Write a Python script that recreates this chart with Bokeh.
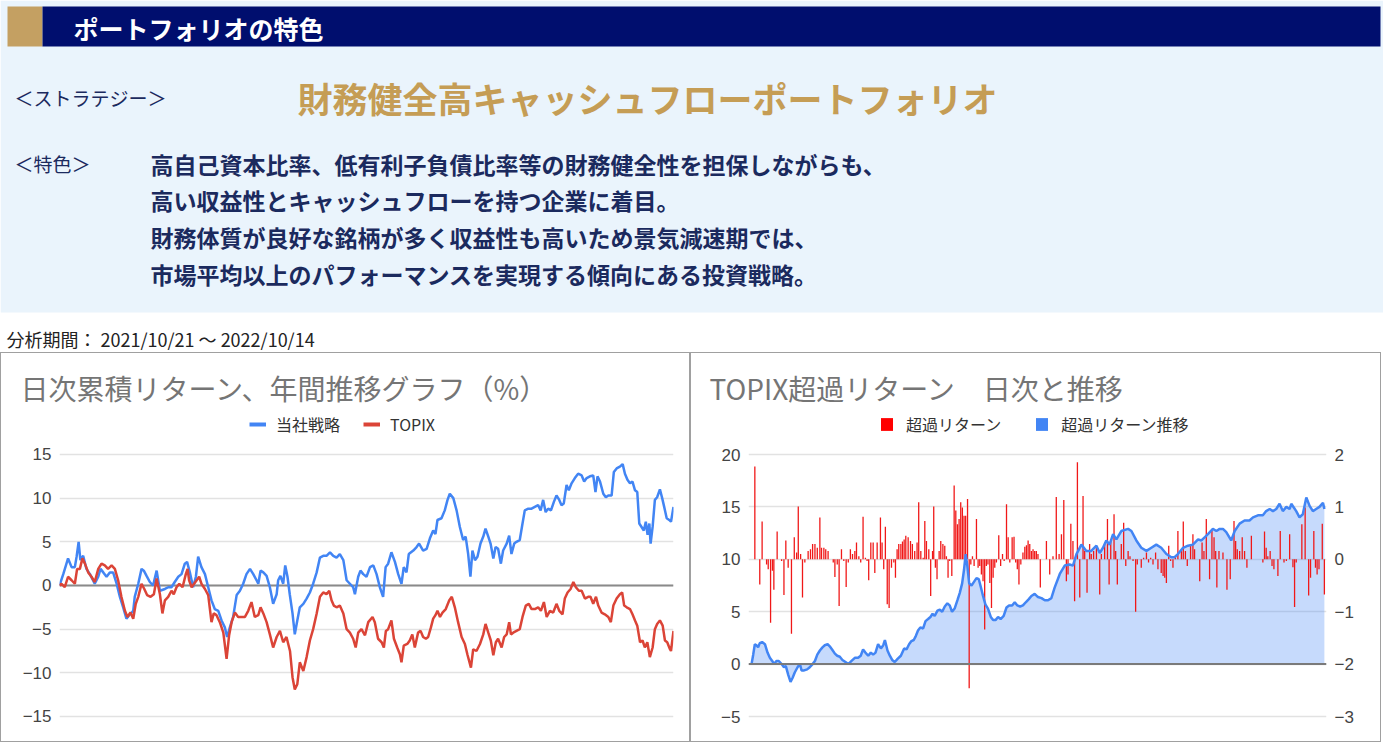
from bokeh.plotting import figure
from bokeh.models import (Range1d, Label, Span, FixedTicker, LinearAxis, Legend,
                          LegendItem, ColumnDataSource)
from bokeh.layouts import column, row
from bokeh.embed import file_html
from bokeh.resources import INLINE

# ---------------- data (trading-day index, value in %) ----------------
STRATEGY = [
    (0.0, 0.0), (1.5, 1.3), (3.4, 3.1), (4.8, 2.1), (6.1, 2.1), (6.8, 3.3), (7.6, 5.0), (8.3, 2.9), (9.4, 3.4), (10.7, 1.9),
    (12.1, 1.3), (14.0, 0.2), (15.4, 1.0), (16.3, 1.9), (17.4, 1.5), (18.7, 1.0), (20.0, 1.5), (21.3, 1.5), (22.7, 0.2), (24.0, -1.3),
    (25.3, -2.5), (26.6, -3.8), (28.0, -3.3), (29.3, -2.9), (29.9, -1.3), (31.3, 0.2), (32.6, 1.9), (33.5, 1.7), (34.6, 1.1), (35.9, 0.4),
    (37.2, 0.0), (38.6, 1.7), (39.9, -0.6), (41.9, -0.4), (43.2, -0.2), (44.5, -0.2), (45.8, 0.4), (47.2, 1.0), (48.5, 1.3), (49.8, 2.5),
    (50.7, 2.7), (51.8, 1.5), (53.1, -0.2), (54.2, 1.0), (55.1, 3.3), (56.4, 2.1), (57.8, 1.3), (59.1, -0.2), (60.4, -1.7), (61.7, -2.7),
    (63.1, -2.9), (64.4, -4.0), (65.7, -4.8), (66.6, -5.9), (67.7, -4.8), (69.0, -3.6), (70.4, -1.1), (71.7, -0.6), (73.0, 0.2), (74.3, 1.3),
    (75.7, 1.9), (77.0, 1.3), (78.3, 0.6), (79.0, 0.2), (79.9, 1.7), (81.0, 1.5), (82.3, 1.1), (83.6, -0.2), (84.9, -2.1), (86.3, -1.0),
    (86.9, 0.6), (87.8, 1.1), (88.9, 0.2), (89.7, 2.3), (90.6, 1.0), (91.5, -1.0), (92.6, -3.2), (93.5, -5.6), (94.5, -4.0), (95.5, -2.5),
    (96.9, -2.1), (98.2, -1.5), (99.5, -0.8), (100.8, 0.2), (102.2, 1.5), (103.5, 3.2), (104.8, 3.4), (106.1, 3.4), (107.5, 3.8), (108.8, 3.4),
    (110.1, 3.2), (111.4, 3.6), (112.8, 2.9), (114.1, 0.6), (115.4, 0.2), (116.7, -0.2), (117.4, -1.0), (118.7, 1.0), (119.6, 1.7), (120.7, 1.3),
    (122.0, 1.0), (123.4, 2.1), (124.7, 2.3), (126.0, 1.3), (127.3, -0.2), (128.6, -1.3), (129.6, 2.1), (130.6, 2.5), (131.9, 3.8), (133.3, 2.7),
    (134.6, 1.3), (135.9, 0.2), (136.8, 2.1), (137.9, 1.5), (138.8, 3.6), (140.6, 4.0), (141.9, 4.4), (142.9, 4.8), (144.5, 4.0), (145.9, 4.2),
    (147.2, 5.4), (148.5, 6.3), (149.4, 5.9), (150.2, 7.5), (151.8, 7.7), (153.1, 8.6), (154.2, 9.8), (155.1, 10.5), (156.5, 10.0), (157.8, 8.6),
    (159.1, 6.7), (160.4, 5.2), (161.4, 5.6), (162.4, 3.6), (163.3, 1.0), (164.1, 4.0), (165.1, 2.9), (166.1, 3.3), (167.3, 4.8), (168.4, 5.6),
    (169.3, 6.5), (170.4, 5.6), (171.3, 4.8), (172.4, 3.1), (173.3, 4.4), (174.3, 4.2), (175.4, 2.5), (176.3, 4.0), (177.7, 4.8), (178.7, 5.7),
    (179.6, 3.6), (180.7, 4.8), (181.6, 5.0), (182.9, 5.2), (184.0, 7.1), (184.9, 8.6), (186.3, 8.8), (187.6, 8.8), (188.9, 9.0), (190.2, 9.2),
    (191.2, 8.6), (192.2, 9.8), (193.2, 8.4), (194.2, 8.8), (195.3, 8.6), (196.5, 9.6), (197.5, 10.3), (198.6, 9.8), (199.5, 9.2), (200.4, 9.4),
    (201.5, 11.5), (202.4, 10.9), (203.5, 11.7), (204.8, 12.3), (206.1, 12.8), (207.5, 12.6), (208.5, 11.9), (209.5, 12.3), (210.8, 12.5), (212.1, 12.6),
    (213.0, 10.7), (213.8, 12.5), (214.8, 11.9), (216.1, 10.5), (217.1, 10.1), (218.1, 10.3), (219.4, 10.3), (220.3, 13.0), (221.4, 13.4), (222.7, 13.6),
    (223.8, 13.9), (224.7, 12.8), (225.7, 12.1), (226.7, 11.7), (227.7, 11.9), (228.7, 10.9), (229.6, 10.7), (230.4, 7.1), (231.3, 6.7), (232.2, 6.3),
    (233.0, 7.3), (233.7, 5.8), (234.4, 7.1), (234.9, 4.8), (235.7, 6.7), (236.6, 9.8), (237.5, 10.1), (238.6, 11.0), (239.5, 10.0), (240.3, 9.0),
    (241.3, 7.7), (242.3, 7.5), (243.0, 7.3), (244.0, 9.0),
]

TOPIX = [
    (0.0, 0.0), (0.8, 0.2), (2.1, -0.2), (3.4, 1.0), (4.8, 0.6), (6.1, 0.2), (7.0, 1.9), (8.1, 1.9), (9.1, 3.1), (10.1, 2.5),
    (11.4, 1.5), (12.7, 1.0), (14.0, 0.4), (15.4, 1.9), (16.7, 2.5), (18.0, 2.3), (19.3, 1.9), (20.7, 2.3), (22.0, 1.9), (23.3, 0.6),
    (24.6, -1.3), (26.0, -2.9), (27.0, -3.6), (28.2, -3.1), (29.3, -3.8), (30.3, -2.1), (31.3, -1.3), (32.6, 0.2), (33.7, -0.4), (34.8, -1.1),
    (36.2, -1.3), (37.5, -1.0), (38.6, 0.8), (39.9, -1.0), (40.9, -3.2), (41.9, -1.7), (43.2, -1.3), (44.5, -0.6), (45.4, -1.0), (46.5, -0.2),
    (47.6, 0.2), (48.9, -0.2), (50.2, 1.3), (50.9, 1.9), (51.5, 0.6), (52.5, -0.2), (53.5, 0.2), (54.5, 0.6), (55.5, 1.0), (56.4, 0.2),
    (57.8, -0.4), (59.1, -1.1), (60.4, -4.2), (61.3, -3.2), (62.4, -3.4), (63.7, -4.2), (65.1, -5.4), (66.4, -8.4), (67.4, -5.7), (68.4, -4.2),
    (69.7, -3.1), (71.0, -3.6), (72.3, -3.6), (73.7, -3.6), (75.0, -2.9), (76.3, -1.9), (77.6, -3.6), (79.0, -3.4), (79.9, -2.5), (81.0, -3.2),
    (82.3, -4.2), (83.6, -5.6), (84.9, -7.1), (86.3, -5.9), (87.6, -5.2), (88.9, -6.5), (90.2, -5.9), (91.6, -7.5), (92.6, -10.5), (93.5, -11.9),
    (94.5, -11.3), (95.5, -8.8), (96.9, -9.8), (98.2, -8.2), (99.5, -6.3), (100.8, -5.0), (102.2, -3.2), (103.5, -1.3), (104.8, -0.8), (106.1, -1.0),
    (107.2, -0.6), (108.1, -1.7), (109.0, -2.3), (110.1, -2.5), (111.4, -2.3), (112.8, -3.2), (114.1, -5.0), (115.4, -5.4), (116.7, -6.1), (117.7, -7.1),
    (118.7, -5.4), (120.0, -5.0), (121.4, -5.7), (122.7, -4.2), (124.4, -3.6), (125.3, -4.2), (126.6, -6.1), (128.0, -6.5), (128.9, -7.1), (129.7, -5.2),
    (130.6, -5.0), (131.9, -4.0), (132.9, -6.1), (134.2, -7.1), (135.3, -7.9), (135.9, -8.8), (136.8, -6.9), (138.2, -6.7), (139.2, -6.3), (140.2, -5.6),
    (141.2, -7.1), (142.5, -5.4), (143.5, -5.2), (144.5, -5.9), (145.6, -6.1), (146.5, -5.9), (147.6, -4.8), (148.5, -3.8), (149.4, -3.4), (150.2, -2.9),
    (151.2, -3.6), (152.2, -3.1), (153.5, -2.7), (154.9, -1.7), (155.9, -1.3), (157.1, -2.5), (158.4, -4.2), (159.8, -5.9), (161.1, -6.7), (162.1, -7.9),
    (163.5, -9.4), (164.4, -7.3), (165.7, -7.5), (167.1, -6.7), (168.4, -5.6), (169.3, -4.4), (170.4, -5.4), (171.4, -6.3), (172.4, -8.0), (173.4, -6.5),
    (174.3, -6.1), (175.7, -7.1), (176.7, -5.9), (177.7, -5.6), (178.7, -4.2), (179.4, -5.6), (180.3, -5.4), (181.6, -5.2), (182.9, -5.0), (184.0, -3.6),
    (185.3, -2.3), (186.5, -2.1), (187.6, -2.7), (188.9, -2.7), (190.2, -2.5), (191.3, -2.9), (192.5, -1.9), (193.6, -3.6), (194.9, -2.9), (196.2, -3.1),
    (197.5, -2.1), (198.6, -2.9), (199.9, -3.3), (200.8, -1.5), (201.9, -0.8), (203.1, -0.4), (204.2, 0.4), (205.2, -0.2), (206.4, -0.6), (207.5, -0.6),
    (208.8, -1.5), (210.1, -1.3), (211.0, -1.3), (212.1, -2.1), (213.2, -1.3), (214.1, -2.3), (215.4, -3.1), (216.7, -3.3), (218.1, -3.6), (219.1, -4.2),
    (220.1, -2.3), (221.4, -1.5), (222.7, -1.0), (223.6, -0.8), (224.4, -2.3), (225.4, -2.5), (226.7, -2.7), (227.7, -3.3), (228.7, -4.0), (229.6, -4.6),
    (230.7, -6.5), (231.7, -6.3), (232.6, -7.1), (233.6, -6.5), (234.6, -8.2), (235.7, -7.1), (236.6, -5.0), (237.5, -4.4), (238.6, -4.0), (239.7, -4.6),
    (240.6, -6.3), (241.5, -6.5), (242.6, -7.3), (243.0, -7.5), (244.0, -5.2),
]

EXCESS_CUM = [
    (0.0, 0.0), (0.7, 0.9), (1.4, 1.9), (2.1, 1.8), (2.8, 1.6), (3.5, 2.0), (4.5, 2.1), (5.7, 1.9), (6.8, 1.1), (7.8, 0.6),
    (8.8, 0.3), (9.6, 0.0), (10.6, 0.3), (11.6, 0.3), (12.8, 0.0), (13.8, -0.3), (14.6, -0.2), (15.6, -1.0), (16.6, -1.7), (17.5, -1.3),
    (18.4, -0.8), (19.6, -0.3), (20.6, 0.0), (21.3, -0.6), (22.4, -0.6), (23.7, -0.5), (24.8, -0.3), (26.0, 0.0), (27.0, 0.3), (28.0, 0.9),
    (29.1, 1.3), (30.2, 1.6), (31.2, 1.8), (32.4, 1.9), (33.3, 1.7), (34.3, 1.4), (35.5, 1.0), (36.5, 0.8), (37.6, 0.7), (38.7, 0.4),
    (40.0, 0.2), (41.2, 0.0), (42.6, 0.3), (44.0, 0.6), (45.4, 0.6), (46.5, 0.8), (47.5, 1.4), (48.5, 1.1), (49.7, 0.8), (50.8, 1.1),
    (51.8, 0.9), (52.8, 1.1), (53.9, 1.9), (55.1, 1.5), (56.1, 1.8), (56.8, 2.3), (57.9, 1.3), (58.9, 0.8), (59.9, 0.4), (61.0, 0.2),
    (62.2, 0.5), (63.6, 0.8), (65.0, 1.5), (66.0, 1.4), (67.1, 1.9), (68.1, 2.2), (69.1, 2.3), (70.0, 2.7), (70.9, 3.2), (71.9, 3.5),
    (73.1, 3.4), (74.1, 4.1), (75.2, 4.3), (76.2, 4.5), (77.1, 4.8), (78.0, 4.6), (79.2, 5.1), (80.2, 5.2), (81.2, 5.0), (82.3, 5.5),
    (83.4, 5.8), (84.4, 5.6), (85.4, 5.0), (86.5, 5.3), (87.7, 6.1), (88.7, 6.8), (89.7, 7.7), (90.5, 9.0), (91.2, 10.5), (91.9, 9.4),
    (92.7, 7.7), (93.7, 7.5), (94.6, 7.8), (95.8, 8.2), (96.8, 8.1), (97.6, 7.4), (98.6, 6.5), (99.6, 5.7), (100.7, 5.3), (101.9, 4.5),
    (102.9, 4.2), (103.9, 4.2), (105.0, 4.5), (106.1, 4.3), (107.4, 4.6), (108.6, 5.4), (109.7, 5.6), (111.0, 5.6), (112.1, 5.9), (113.2, 5.6),
    (114.4, 5.5), (115.6, 5.6), (116.8, 5.9), (118.1, 6.2), (119.2, 6.5), (120.6, 6.7), (122.0, 6.4), (123.5, 6.3), (124.9, 6.1), (126.3, 6.1),
    (127.7, 6.3), (129.1, 7.3), (131.3, 8.6), (133.4, 9.4), (135.5, 9.5), (136.9, 9.4), (138.4, 10.5), (140.5, 11.4), (142.6, 10.8), (144.7, 10.8),
    (146.9, 11.3), (148.3, 10.6), (149.7, 11.1), (151.1, 11.8), (152.5, 11.4), (154.0, 12.4), (155.4, 11.9), (157.5, 12.7), (160.4, 12.9), (161.8, 12.7),
    (163.9, 11.8), (166.0, 11.1), (168.2, 10.8), (170.3, 11.1), (172.4, 11.4), (174.5, 11.1), (176.7, 10.5), (178.8, 10.2), (180.2, 10.2), (181.6, 10.5),
    (183.8, 11.1), (185.9, 11.3), (188.0, 11.4), (190.2, 11.9), (191.6, 11.8), (193.0, 12.1), (194.4, 12.4), (196.5, 12.9), (198.0, 12.7), (199.4, 12.9),
    (200.8, 12.9), (202.2, 12.6), (204.3, 11.8), (205.8, 12.7), (207.9, 13.4), (210.0, 13.7), (212.1, 13.7), (213.6, 14.0), (215.7, 14.2), (217.8, 14.2),
    (219.2, 14.6), (220.7, 14.8), (222.1, 14.6), (223.5, 14.8), (224.9, 15.3), (226.3, 14.6), (227.8, 15.0), (229.2, 14.8), (229.9, 15.3), (232.0, 14.6),
    (233.4, 14.0), (234.8, 14.3), (236.3, 15.9), (237.7, 15.1), (239.1, 14.6), (240.5, 14.8), (241.9, 15.0), (243.4, 15.4), (244.0, 14.8),
]

EXCESS_DAILY = [
    (1.4, 1.77), (3.5, -0.48), (4.5, 0.72), (6.4, -0.10), (7.1, -0.19), (8.1, -1.21), (8.9, -0.22), (9.5, -0.58), (10.9, 0.53), (12.8, -0.03),
    (13.8, -0.68), (14.6, 0.36), (15.6, -0.16), (17.0, -1.42), (18.2, 0.42), (19.2, 0.13), (19.9, 1.01), (20.9, 0.10), (21.7, -0.73), (22.7, -0.06),
    (24.1, 0.16), (25.1, 0.19), (26.0, 0.29), (27.0, 0.29), (28.0, 0.22), (29.1, 0.80), (29.8, 0.22), (30.8, 0.22), (31.6, 0.19), (32.6, 0.16),
    (34.8, -0.06), (35.5, -0.34), (36.5, -0.10), (37.3, -0.89), (38.3, 0.19), (39.3, -0.03), (40.3, -0.53), (41.2, -0.06), (42.1, 0.19), (43.0, 0.10),
    (44.0, 0.16), (44.7, 0.32), (45.7, 0.06), (46.5, -0.06), (47.5, 0.81), (48.5, 0.03), (49.2, -0.03), (49.9, -0.40), (50.8, 0.32), (51.8, 0.32),
    (52.5, -0.26), (53.5, 0.32), (54.9, 0.80), (55.6, 0.32), (56.3, -0.19), (57.0, 0.62), (57.8, -0.86), (58.6, -0.93), (59.6, -0.16), (60.6, -0.06),
    (61.3, -0.35), (62.0, 0.19), (62.7, 0.29), (63.6, 0.29), (64.3, 0.34), (65.0, 0.38), (65.7, 0.45), (66.7, 0.42), (67.7, 0.35), (68.5, 0.29),
    (69.5, 0.16), (70.5, 0.32), (71.2, 1.09), (72.1, 0.16), (73.1, 0.03), (73.8, 0.73), (74.5, 0.35), (75.5, 0.19), (76.3, -0.70), (77.1, 0.16),
    (77.6, 1.01), (78.3, -0.16), (79.0, -0.38), (79.9, 0.16), (80.6, 0.35), (81.5, 0.29), (82.3, 0.26), (83.0, 0.06), (83.7, -0.35), (84.4, -0.03),
    (85.3, -0.32), (86.3, 1.41), (87.0, 0.93), (87.7, 0.67), (88.4, 0.77), (89.1, 1.09), (89.8, 0.99), (90.5, 0.83), (91.2, 0.83), (92.0, 1.15),
    (92.7, -2.46), (93.4, -0.10), (94.1, 0.06), (94.8, -0.13), (95.8, 0.77), (96.5, -0.16), (97.2, -0.13), (97.9, -0.29), (98.6, -0.42), (99.3, -1.34),
    (100.0, -0.13), (100.7, -0.10), (101.5, -0.45), (102.2, -0.93), (102.9, -0.35), (103.6, -0.16), (104.3, -0.06), (105.3, 0.46), (106.1, -0.13), (106.9, 0.10),
    (107.6, -0.03), (108.6, 1.05), (109.3, 0.42), (110.0, -0.06), (111.0, 0.42), (111.8, 0.43), (112.5, -0.06), (113.2, -0.19), (113.9, -0.48), (114.7, -0.10),
    (115.6, 0.13), (116.4, 0.24), (117.1, 0.27), (117.8, 0.36), (118.5, 0.29), (119.2, 0.16), (119.9, 0.19), (120.6, 0.16), (121.3, 0.16), (122.0, 0.10),
    (123.0, -0.54), (125.6, 0.35), (127.0, -0.29), (128.4, 0.06), (129.8, 1.19), (131.0, 0.10), (132.0, 0.48), (133.0, 1.13), (134.1, -0.42), (134.8, -0.29),
    (136.0, 0.68), (136.9, 0.35), (137.6, -0.80), (138.8, 1.85), (139.8, -0.73), (141.2, 1.21), (141.9, 0.16), (142.9, -0.64), (144.0, 0.29), (144.7, 0.10),
    (145.7, 0.16), (146.9, 0.26), (148.3, -0.67), (149.0, 0.10), (150.4, 0.32), (151.6, 0.77), (152.3, -0.48), (153.0, 0.35), (154.4, 0.86), (155.1, 0.16),
    (155.8, -0.48), (157.5, 0.29), (158.5, 0.70), (159.4, -0.13), (160.4, 0.16), (161.2, 0.06), (162.5, -0.03), (163.6, -1.00), (164.3, -0.10), (166.0, -0.16),
    (167.0, 0.03), (168.2, 0.13), (169.1, -0.06), (170.0, 0.03), (171.0, -0.10), (172.1, 0.13), (173.1, -0.19), (174.5, -0.26), (175.3, -0.32), (176.0, -0.35),
    (176.7, -0.45), (177.7, 0.26), (178.5, -0.03), (179.5, -0.16), (180.5, 0.06), (181.6, 0.54), (183.1, 0.16), (183.9, 0.72), (184.8, 0.16), (185.6, -0.13),
    (187.0, 0.29), (188.0, 0.48), (188.7, 0.19), (190.9, -0.42), (191.9, 0.32), (192.7, 0.16), (193.7, 0.77), (195.1, -0.38), (196.1, 0.54), (197.0, 0.42),
    (197.7, 0.16), (198.2, -0.54), (199.1, 0.16), (200.8, 0.13), (202.5, -0.58), (203.9, -0.38), (205.5, 0.73), (206.2, 0.35), (206.9, 0.19), (207.9, 0.16),
    (209.0, 0.42), (210.0, 0.16), (211.0, -0.16), (212.9, 0.45), (217.8, -0.06), (218.5, 0.53), (219.2, 0.22), (219.9, 0.06), (220.9, 0.16), (221.7, -0.13),
    (222.5, -0.19), (224.2, -0.32), (225.2, 0.54), (226.8, -0.06), (227.8, -0.03), (229.2, 0.48), (230.6, -0.15), (231.3, -0.91), (232.0, -0.06), (234.4, 0.67),
    (235.8, 0.99), (237.3, -0.69), (238.1, -0.35), (239.5, 0.54), (240.2, -0.16), (240.9, -0.29), (241.7, -0.19), (243.1, 0.68), (244.0, -0.67),
]

LEFT_TICKS = [-15, -10, -5, 0, 5, 10, 15]
RIGHT_LEFT_TICKS = [-5, 0, 5, 10, 15, 20]
RIGHT_RIGHT_TICKS = [-3, -2, -1, 0, 1, 2]

HEADER = "ポートフォリオの特色"
STRATEGY_LABEL = "＜ストラテジー＞"
STRATEGY_NAME = "財務健全高キャッシュフローポートフォリオ"
FEATURE_LABEL = "＜特色＞"
FEATURE_LINES = [
    "高自己資本比率、低有利子負債比率等の財務健全性を担保しながらも、",
    "高い収益性とキャッシュフローを持つ企業に着目。",
    "財務体質が良好な銘柄が多く収益性も高いため景気減速期では、",
    "市場平均以上のパフォーマンスを実現する傾向にある投資戦略。",
]
PERIOD = "分析期間： 2021/10/21 ～ 2022/10/14"
LEFT_TITLE = "日次累積リターン、年間推移グラフ（%）"
RIGHT_TITLE = "TOPIX超過リターン　日次と推移"
LEFT_SERIES = ["当社戦略", "TOPIX"]
RIGHT_SERIES = ["超過リターン", "超過リターン推移"]

JP = "Noto Sans CJK JP"
LAT = "Liberation Sans"
BLUE = "#4285F4"
RED = "#DB4437"
NAVY_TXT = "#1B2A5E"
NAN = float("nan")


def src(pairs, ycol="val"):
    return ColumnDataSource(data={"day": [p[0] for p in pairs], ycol: [p[1] for p in pairs]})


# ---------------- top panel ----------------
W = 1383
TOP_H = 352
top = figure(width=W, height=TOP_H, x_range=Range1d(0, W), y_range=Range1d(TOP_H, 0),
             output_backend="svg", toolbar_location=None, min_border=0,
             x_axis_location=None, y_axis_location=None, outline_line_color=None)
top.grid.visible = False
top.background_fill_color = "white"
top.border_fill_color = "white"
top.quad(left=0, right=W, top=0, bottom=312, fill_color="#EAF4FC", line_color=None)
top.quad(left=7, right=42, top=6, bottom=46, fill_color="#C4A062", line_color=None)
top.quad(left=42, right=1380, top=6, bottom=46, fill_color="#000E6E", line_color=None)

top.add_layout(Label(x=73, y=27, text=HEADER, text_font=JP, text_font_size="25px",
                     text_font_style="bold", text_color="white", text_baseline="middle"))
top.add_layout(Label(x=14, y=97, text=STRATEGY_LABEL, text_font=JP, text_font_size="19px",
                     text_color=NAVY_TXT, text_baseline="middle"))
top.add_layout(Label(x=297, y=97, text=STRATEGY_NAME, text_font=JP, text_font_size="35px",
                     text_font_style="bold", text_color="#C59D55", text_baseline="middle"))
top.add_layout(Label(x=14, y=163, text=FEATURE_LABEL, text_font=JP, text_font_size="19px",
                     text_color=NAVY_TXT, text_baseline="middle"))
for i, line in enumerate(FEATURE_LINES):
    top.add_layout(Label(x=150, y=163 + i * 36.7, text=line, text_font=JP, text_font_size="23px",
                         text_font_style="bold", text_color=NAVY_TXT, text_baseline="middle"))
top.add_layout(Label(x=6, y=338, text=PERIOD, text_font=JP, text_font_size="18px",
                     text_color="#222222", text_baseline="middle"))


def style_axis(ax, ticks):
    ax.ticker = FixedTicker(ticks=ticks)
    ax.axis_line_color = None
    ax.major_tick_line_color = None
    ax.minor_tick_line_color = None
    ax.major_tick_out = 0
    ax.major_tick_in = 0
    ax.major_label_text_font = LAT
    ax.major_label_text_font_size = "17px"
    ax.major_label_text_color = "#444444"
    ax.major_label_standoff = 8


def style_title(p, text, offset):
    p.title.text = text
    p.title.align = "left"
    p.title.offset = offset
    p.title.standoff = 0
    p.title.text_font = JP
    p.title.text_font_size = "28px"
    p.title.text_font_style = "normal"
    p.title.text_color = "#757575"


def make_legend(items, loc, spacing, standoff, gw):
    return Legend(items=items, location=loc, orientation="horizontal", padding=0, margin=0,
                  spacing=spacing, label_standoff=standoff, glyph_width=gw, glyph_height=16,
                  label_height=16, label_text_font=JP, label_text_font_size="16px",
                  label_text_color="#333333", background_fill_alpha=0, border_line_color=None)


BOX = {"border": "1px solid #a0a0a0", "box-sizing": "border-box"}
CH = 390
FTOP = 54   # frame top inside each chart box
FBOT = 12

# ---------------- left chart ----------------
lc = figure(width=690, height=CH, x_range=Range1d(0, 244), y_range=Range1d(-16.72, 20.38),
            min_border_left=58, min_border_right=18, min_border_top=FTOP, min_border_bottom=FBOT,
            x_axis_location=None, output_backend="svg", toolbar_location=None,
            outline_line_color=None, title="")
style_title(lc, LEFT_TITLE, -39)
style_axis(lc.yaxis[0], LEFT_TICKS)
lc.xgrid.visible = False
lc.ygrid.ticker = FixedTicker(ticks=LEFT_TICKS)
lc.ygrid.grid_line_color = "#e2e2e2"
lc.ygrid.grid_line_width = 1.5
lc.add_layout(Span(location=0, dimension="width", line_color="#8a8a8a", line_width=2, level="underlay"))

lc.line(x="day", y="val", source=src(STRATEGY), line_color=BLUE, line_width=2.5)
lc.line(x="day", y="val", source=src(TOPIX), line_color=RED, line_width=2.5)
dl_b = lc.line(x=[NAN], y=[NAN], line_color=BLUE, line_width=4)
dl_r = lc.line(x=[NAN], y=[NAN], line_color=RED, line_width=4)
lc.add_layout(make_legend([LegendItem(label=LEFT_SERIES[0], renderers=[dl_b]),
                           LegendItem(label=LEFT_SERIES[1], renderers=[dl_r])],
                          (190, 295), 23, 10, 17))
lc.styles = BOX

# ---------------- right chart ----------------
rc = figure(width=691, height=CH, x_range=Range1d(-1.3, 244.9), y_range=Range1d(-6.43, 24.485),
            min_border_left=57, min_border_right=56, min_border_top=FTOP, min_border_bottom=FBOT,
            x_axis_location=None, output_backend="svg", toolbar_location=None,
            outline_line_color=None, title="")
style_title(rc, RIGHT_TITLE, -39)
rc.extra_y_ranges = {"daily": Range1d(-3.286, 2.897)}
style_axis(rc.yaxis[0], RIGHT_LEFT_TICKS)
rax = LinearAxis(y_range_name="daily")
style_axis(rax, RIGHT_RIGHT_TICKS)
rc.add_layout(rax, "right")
rc.xgrid.visible = False
rc.ygrid.ticker = FixedTicker(ticks=RIGHT_LEFT_TICKS)
rc.ygrid.grid_line_color = "#e2e2e2"
rc.ygrid.grid_line_width = 1.5

cum_src = src(EXCESS_CUM, "cum")
rc.varea(x="day", y1=0, y2="cum", source=cum_src, fill_color=BLUE, fill_alpha=0.3)
rc.add_layout(Span(location=0, dimension="width", line_color="#7a7a7a", line_width=2))
rc.vbar(x="day", top="val", bottom=0, width=0.55, source=src(EXCESS_DAILY),
        y_range_name="daily", fill_color="#F01818", line_color=None)
rc.line(x="day", y="cum", source=cum_src, line_color=BLUE, line_width=2.5)
dq_r = rc.quad(left=[NAN], right=[NAN], top=[NAN], bottom=[NAN], fill_color="#FF0000", line_color=None)
dq_b = rc.quad(left=[NAN], right=[NAN], top=[NAN], bottom=[NAN], fill_color=BLUE, line_color=None)
rc.add_layout(make_legend([LegendItem(label=RIGHT_SERIES[0], renderers=[dq_r]),
                           LegendItem(label=RIGHT_SERIES[1], renderers=[dq_b])],
                          (131, 295), 33, 12, 15))
rc.styles = BOX

layout = column(top, row(lc, rc))
open("out.html", "w").write(file_html(layout, INLINE))
